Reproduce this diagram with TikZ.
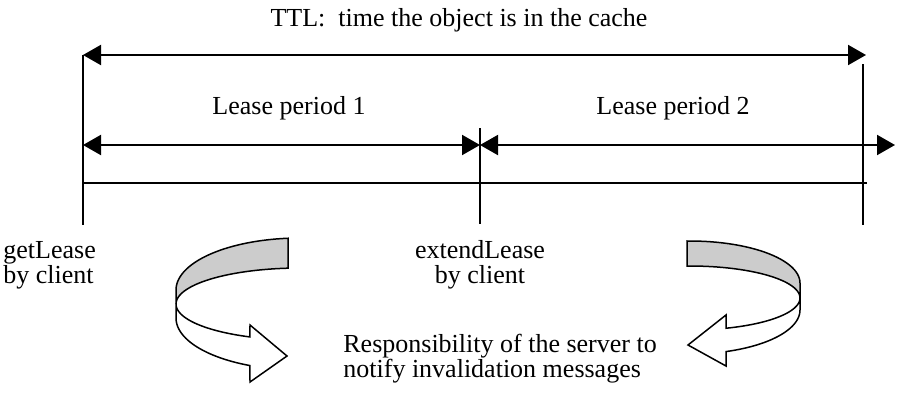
\documentclass[tikz,border=0pt]{standalone}
\usepackage{fontspec}
\setmainfont{Liberation Serif}
\usetikzlibrary{arrows.meta}
\definecolor{ribbon}{gray}{0.8}

\begin{document}
\begin{tikzpicture}[x=0.5pt, y=-0.5pt,
  lbl/.style={inner sep=0pt, font=\fontsize{13}{12.5}\selectfont},
  spanarrow/.style={{Triangle[length=9pt,width=10pt]}-{Triangle[length=9pt,width=10pt]}, line width=1pt},
  tick/.style={line width=1pt},
  band/.style={draw, line width=0.75pt, fill=#1}]
  \useasboundingbox (0,0) rectangle (899,392);

  \coordinate (ttlL) at (83,55);
  \coordinate (ttlR) at (866,55);
  \coordinate (getBot) at (83,225);
  \coordinate (extTop) at (480,128);
  \coordinate (extBot) at (480,224);
  \coordinate (endTop) at (863,64);
  \coordinate (endBot) at (863,225);
  \coordinate (l1L) at (83,145);
  \coordinate (l1R) at (480,145);
  \coordinate (l2R) at (895,145);
  \coordinate (baseL) at (83,183);
  \coordinate (baseR) at (867,183);

  \node[lbl, anchor=base] (ttl) at (459,26) {TTL:~~time the object is in the cache};
  \node[lbl, anchor=base] (lease1) at (289,114) {Lease period 1};
  \node[lbl, anchor=base] (lease2) at (673,114) {Lease period 2};
  \node[lbl, anchor=north west, align=left] (get) at (3,241) {getLease\\by client};
  \node[lbl, anchor=north, align=center] (ext) at (480,240) {extendLease\\by client};
  \node[lbl, anchor=north west, align=left] (resp) at (343,334) {Responsibility of the server to\\notify invalidation messages};

  \draw[tick] (ttlL) -- (getBot);
  \draw[tick] (extTop) -- (extBot);
  \draw[tick] (endTop) -- (endBot);
  \draw[tick] (baseL) -- (baseR);
  \draw[spanarrow] (ttlL) -- (ttlR);
  \draw[spanarrow] (l1L) -- (l1R);
  \draw[spanarrow] (l1R) -- (l2R);

  % ribbon arrows
  \filldraw[band=ribbon] (288,240) -- plot[domain=95.5:180, samples=30] ({300+124*cos(\x)},{290-52*sin(\x)})
    -- (176,304) -- plot[domain=180:95.5, samples=30] ({300+124*cos(\x)},{304-36*sin(\x)}) -- cycle;
  \filldraw[band=white] (176,304) -- (176,318) -- plot[domain=180:113.8, samples=30] ({300+124*cos(\x)},{318+52*sin(\x)})
    -- (250,382) -- (287,356) -- (250,325) -- plot[domain=113.8:180, samples=30] ({300+124*cos(\x)},{304+36*sin(\x)}) -- cycle;

  \filldraw[band=ribbon] (687,241) -- plot[domain=91.5:0, samples=30] ({690+110*cos(\x)},{283-42*sin(\x)})
    -- (800,298) -- plot[domain=0:91.5, samples=30] ({690+110*cos(\x)},{298-32*sin(\x)}) -- cycle;
  \filldraw[band=white] (800,298) -- (800,310) -- plot[domain=0:70.9, samples=30] ({690+110*cos(\x)},{310+44*sin(\x)})
    -- (726,366) -- (688,345) -- (726,315) -- plot[domain=70.9:0, samples=30] ({690+110*cos(\x)},{298+32*sin(\x)}) -- cycle;
\end{tikzpicture}
\end{document}
